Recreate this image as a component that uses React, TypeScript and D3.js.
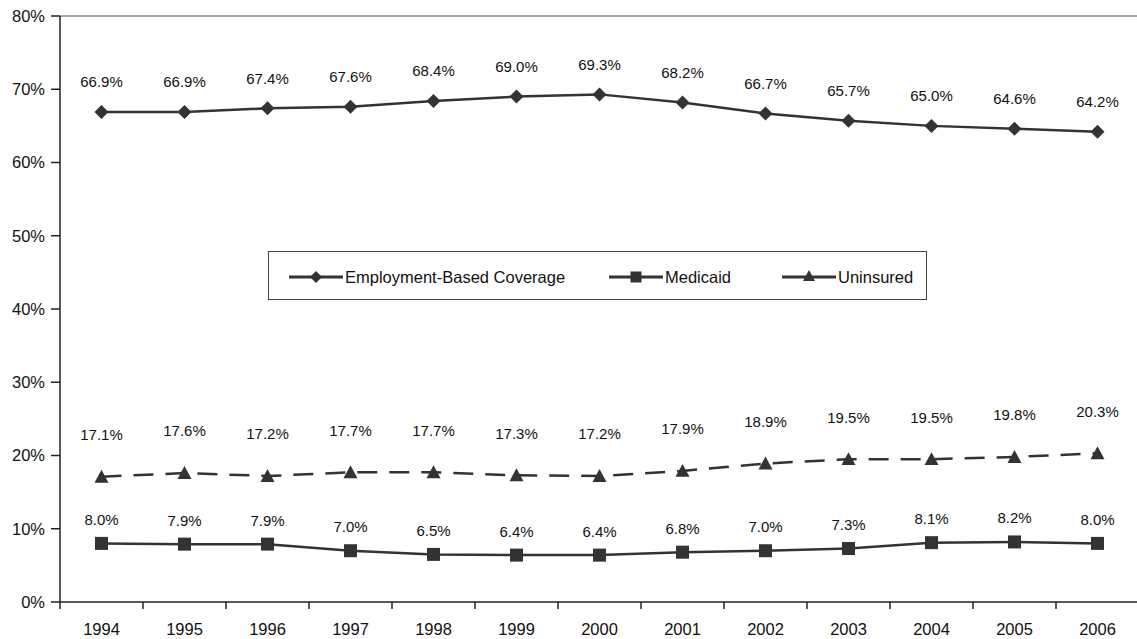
import React from "react";
import * as d3 from "d3";

const years = ["1994","1995","1996","1997","1998","1999","2000","2001","2002","2003","2004","2005","2006"];
const employment = [66.9,66.9,67.4,67.6,68.4,69.0,69.3,68.2,66.7,65.7,65.0,64.6,64.2];
const medicaid = [8.0,7.9,7.9,7.0,6.5,6.4,6.4,6.8,7.0,7.3,8.1,8.2,8.0];
const uninsured = [17.1,17.6,17.2,17.7,17.7,17.3,17.2,17.9,18.9,19.5,19.5,19.8,20.3];
const yTicks = [0,10,20,30,40,50,60,70,80];
const seriesNames = ["Employment-Based Coverage","Medicaid","Uninsured"];

const W = 1137, H = 639;
const left = 60, right = 1139, top = 16, bottom = 602;
const color = "#333333";
const font = "'Liberation Sans', Arial, sans-serif";

function Marker({ kind, x, y, s = 7 }: { kind: string; x: number; y: number; s?: number }) {
  if (kind === "diamond") {
    return <path d={`M${x},${y - s}L${x + s},${y}L${x},${y + s}L${x - s},${y}Z`} fill={color} />;
  }
  if (kind === "square") {
    const h = s - 0.5;
    return <rect x={x - h} y={y - h} width={2 * h} height={2 * h} fill={color} />;
  }
  return <path d={`M${x},${y - s}L${x + s},${y + s * 0.85}L${x - s},${y + s * 0.85}Z`} fill={color} />;
}

export default function App() {
  const x = d3.scaleBand<string>().domain(years).range([left, right]);
  const y = d3.scaleLinear().domain([0, 80]).range([bottom, top]);
  const cx = (yr: string) => (x(yr) as number) + x.bandwidth() / 2;
  const line = d3.line<number>().x((_, i) => cx(years[i])).y((v) => y(v));

  const series = [
    { name: seriesNames[0], values: employment, kind: "diamond", dash: undefined, dy: -30 },
    { name: seriesNames[1], values: medicaid, kind: "square", dash: undefined, dy: -24 },
    { name: seriesNames[2], values: uninsured, kind: "triangle", dash: "20,12", dy: -42 },
  ];

  const legendItems = [
    { name: seriesNames[0], kind: "diamond", x0: 289 },
    { name: seriesNames[1], kind: "square", x0: 609 },
    { name: seriesNames[2], kind: "triangle", x0: 782 },
  ];
  const ly = 277;

  return (
    <svg width={W} height={H} style={{ position: "absolute", left: 0, top: 0, background: "#fff" }} fontFamily={font}>
      <rect x={0} y={0} width={W} height={H} fill="#fff" />
      <line x1={left} x2={W} y1={top} y2={top} stroke="#888" strokeWidth={1.5} />
      <line x1={left} x2={left} y1={top} y2={bottom} stroke="#222" strokeWidth={1.5} />
      {yTicks.map((t) => (
        <g key={t}>
          <line x1={left - 9} x2={left} y1={y(t)} y2={y(t)} stroke="#222" strokeWidth={1.5} />
          <text x={45} y={y(t)} dy="0.36em" textAnchor="end" fontSize={16.5} fill="#111">{t}%</text>
        </g>
      ))}
      <line x1={left} x2={W} y1={bottom} y2={bottom} stroke="#222" strokeWidth={1.5} />
      {years.map((yr) => (
        <g key={yr}>
          <line x1={x(yr) as number} x2={x(yr) as number} y1={bottom} y2={bottom + 7} stroke="#222" strokeWidth={1.5} />
          <text x={cx(yr)} y={635} textAnchor="middle" fontSize={16.5} fill="#111">{yr}</text>
        </g>
      ))}
      {series.map((s) => (
        <g key={s.name}>
          <path d={line(s.values) || ""} fill="none" stroke={color} strokeWidth={2.5} strokeDasharray={s.dash} />
          {s.values.map((v, i) => (
            <Marker key={i} kind={s.kind} x={cx(years[i])} y={y(v)} />
          ))}
          {s.values.map((v, i) => (
            <text key={"l" + i} x={cx(years[i])} y={y(v) + s.dy} dy="0.36em" textAnchor="middle" fontSize={15} fill="#111">
              {v.toFixed(1)}%
            </text>
          ))}
        </g>
      ))}
      <rect x={268.5} y={251.5} width={658} height={48} fill="#fff" stroke="#444" strokeWidth={1} />
      {legendItems.map((it) => (
        <g key={it.name}>
          <line x1={it.x0} x2={it.x0 + 54} y1={ly} y2={ly} stroke={color} strokeWidth={3} />
          <Marker kind={it.kind} x={it.x0 + 27} y={it.kind === "triangle" ? ly - 1 : ly} s={6} />
          <text x={it.x0 + 56} y={ly} dy="0.36em" fontSize={16.5} fill="#111">{it.name}</text>
        </g>
      ))}
    </svg>
  );
}
